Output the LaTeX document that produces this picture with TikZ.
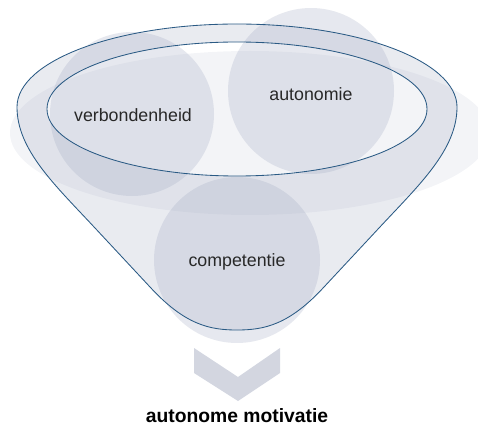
\documentclass[tikz,border=0pt]{standalone}
\usepackage{fontspec}
\setmainfont{Liberation Sans}
\definecolor{basec}{RGB}{160,168,192}
\definecolor{linec}{RGB}{42,90,132}
\definecolor{chevc}{RGB}{211,214,224}
\definecolor{txtc}{RGB}{40,40,40}
\begin{document}
\begin{tikzpicture}[x=1pt,y=1pt,
  bigell/.style={fill=basec,fill opacity=0.13},
  funnelfill/.style={fill=basec,fill opacity=0.23,even odd rule},
  funnelline/.style={draw=linec,line width=0.85pt},
  needcircle/.style={fill=basec,fill opacity=0.26},
  needlabel/.style={text=txtc,font=\fontsize{17.8}{20}\selectfont},
  resultlabel/.style={text=black,font=\bfseries\fontsize{19.3}{22}\selectfont,inner sep=0pt,anchor=base},
  chevron/.style={fill=chevc}]
\path[use as bounding box] (0,0) rectangle (478,426);
\clip (0,0) rectangle (478,426);
% background flat ellipse
\path[bigell] (250,293) ellipse (240pt and 82pt);
% funnel body with hole
\path[funnelfill]
  (17,319) arc(180:0:220pt and 83pt)
  .. controls (457,276) and (419,241) .. (379,198) -- (324,139)
  .. controls (289,101) and (264,96) .. (237,96)
  .. controls (210,96) and (185,101) .. (150,139) -- (95,198)
  .. controls (55,241) and (17,276) .. (17,319) -- cycle
  (237,317) ellipse (190pt and 67pt);
% circles
\path[needcircle] (132,312) circle (82pt);
\path[needcircle] (311,335) circle (83pt);
\path[needcircle] (237,166) circle (83pt);
% funnel outlines
\draw[funnelline]
  (17,319) arc(180:0:220pt and 83pt)
  .. controls (457,276) and (419,241) .. (379,198) -- (324,139)
  .. controls (289,101) and (264,96) .. (237,96)
  .. controls (210,96) and (185,101) .. (150,139) -- (95,198)
  .. controls (55,241) and (17,276) .. (17,319) -- cycle;
\draw[funnelline] (237,317) ellipse (190pt and 67pt);
% labels
\node[needlabel] (verb) at (133,311) {verbondenheid};
\node[needlabel] (auto) at (311,332) {autonomie};
\node[needlabel] (comp) at (237,164) {competentie};
% chevron
\path[chevron] (194,78) -- (238,49) -- (280,78) -- (280,53) -- (238,25) -- (194,53) -- cycle;
\node[resultlabel] (res) at (237,3.5) {autonome motivatie};
\end{tikzpicture}
\end{document}
